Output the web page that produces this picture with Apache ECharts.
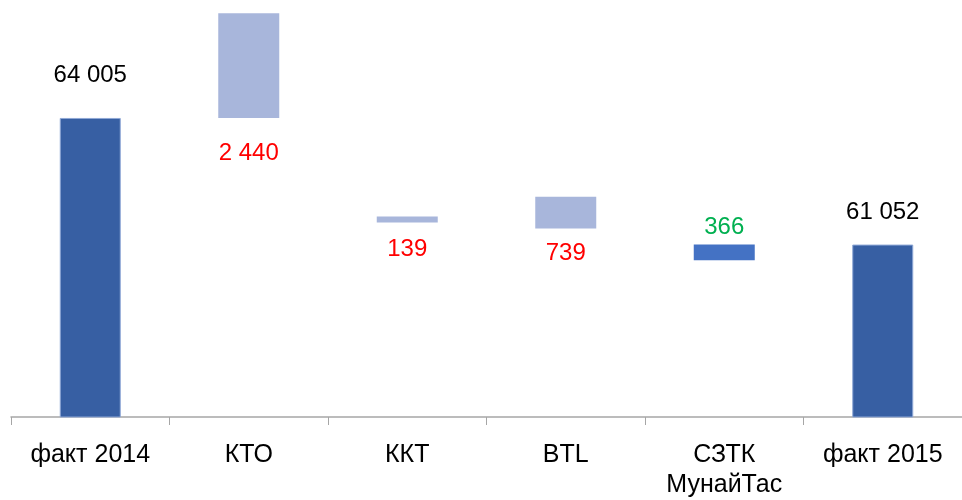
<!DOCTYPE html>
<html>
<head>
<meta charset="utf-8">
<script src="https://cdn.jsdelivr.net/npm/echarts@6/dist/echarts.min.js"></script>
<style>html,body{margin:0;padding:0;background:#fff}#c{width:962px;height:500px}</style>
</head>
<body>
<div id="c"></div>
<script>
const categories = ['факт 2014', 'КТО', 'ККТ', 'BTL', 'СЗТК\nМунайТас', 'факт 2015'];
const totals = [64005, null, null, null, null, 61052];
const changes = [null, -2440, -139, -739, 366, null];

// styling (kept apart from data)
const labelGap = [31, 23, 15, 13, 5, 20];
const darkBlue = '#375FA3';
const lightBlue = '#A8B6DB';
const midBlue = '#4472C4';

const fmt = v => String(Math.abs(v)).replace(/\B(?=(\d{3})+(?!\d))/g, ' ');

let running = totals[0];
const baseData = [];
const barData = [];
categories.forEach((c, i) => {
  if (totals[i] !== null) {
    baseData.push(0);
    barData.push({
      value: totals[i],
      itemStyle: { color: darkBlue, borderColor: '#8FA8D6', borderWidth: 1 },
      label: { position: 'top', distance: labelGap[i], color: '#000' }
    });
  } else {
    const ch = changes[i];
    baseData.push(running);
    const inc = ch > 0;
    barData.push({
      value: Math.abs(ch),
      itemStyle: { color: inc ? midBlue : lightBlue },
      label: { position: inc ? 'top' : 'bottom', distance: labelGap[i], color: inc ? '#00B050' : '#FF0000' }
    });
    running += ch;
  }
});

const chart = echarts.init(document.getElementById('c'), null, { renderer: 'canvas' });
chart.setOption({
  animation: false,
  backgroundColor: '#fff',
  grid: { left: 11, right: 0, top: 11, bottom: 78, containLabel: false },
  xAxis: {
    type: 'category',
    data: categories,
    axisLine: { lineStyle: { color: '#A6A6A6', width: 1.5 } },
    axisTick: { show: true, length: 8, lineStyle: { color: '#A6A6A6', width: 1 } },
    axisLabel: {
      color: '#000', fontFamily: 'Liberation Sans, Arial, sans-serif', fontSize: 25,
      lineHeight: 30, margin: 23, interval: 0
    }
  },
  yAxis: {
    type: 'value', min: 57030, max: 66500,
    show: false, splitLine: { show: false }
  },
  series: [
    {
      type: 'bar', stack: 'w', data: baseData, barWidth: 61,
      itemStyle: { color: 'transparent' }, silent: true
    },
    {
      type: 'bar', stack: 'w', data: barData, barWidth: 61,
      label: {
        show: true, fontSize: 24, fontFamily: 'Liberation Sans, Arial, sans-serif',
        formatter: p => fmt(p.value)
      }
    }
  ]
});
</script>
</body>
</html>
